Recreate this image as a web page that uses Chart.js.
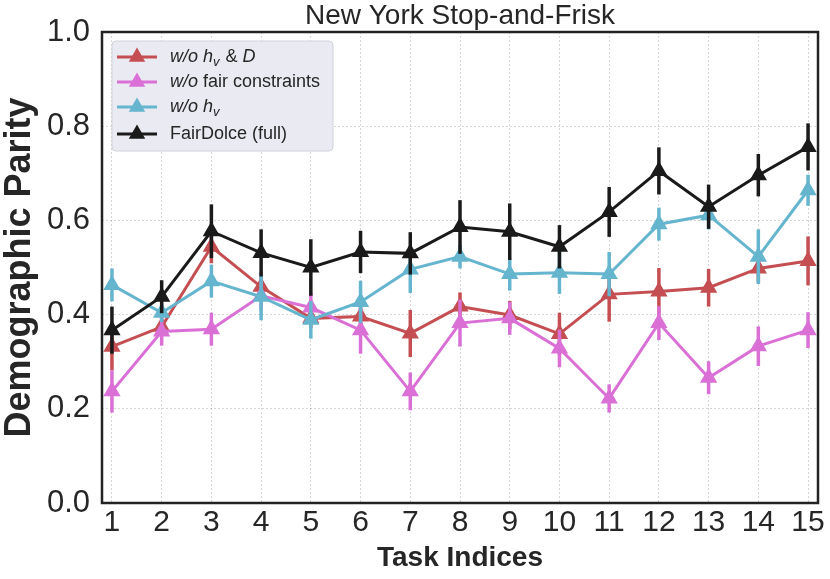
<!DOCTYPE html>
<html>
<head>
<meta charset="utf-8">
<title>New York Stop-and-Frisk</title>
<script src="https://cdn.jsdelivr.net/npm/chart.js@4.4.1/dist/chart.umd.min.js"></script>
<style>
  html, body { margin: 0; padding: 0; background: #fff; }
  #wrap { width: 830px; height: 579px; }
</style>
</head>
<body>
<div id="wrap"><canvas id="chart" width="830" height="579"></canvas></div>
<script>
// ---- data ----
var TASKS = [1, 2, 3, 4, 5, 6, 7, 8, 9, 10, 11, 12, 13, 14, 15];
var Y_TICKS = [0, 0.2, 0.4, 0.6, 0.8, 1.0];

var SERIES_NAMES = ['w/o h_v & D', 'w/o fair constraints', 'w/o h_v', 'FairDolce (full)'];

var NO_HV_D      = [0.332, 0.374, 0.544, 0.459, 0.392, 0.396, 0.360, 0.417, 0.399, 0.359, 0.443, 0.449, 0.457, 0.498, 0.514];
var NO_HV_D_ERR  = [0.050, 0.020, 0.035, 0.030, 0.020, 0.020, 0.050, 0.030, 0.030, 0.045, 0.058, 0.050, 0.040, 0.030, 0.052];

var NO_FAIR      = [0.237, 0.364, 0.369, 0.440, 0.415, 0.367, 0.237, 0.382, 0.392, 0.328, 0.222, 0.382, 0.266, 0.333, 0.367];
var NO_FAIR_ERR  = [0.045, 0.030, 0.035, 0.030, 0.030, 0.050, 0.040, 0.050, 0.035, 0.040, 0.030, 0.036, 0.035, 0.042, 0.038];

var NO_HV        = [0.463, 0.404, 0.471, 0.438, 0.389, 0.427, 0.496, 0.523, 0.486, 0.489, 0.486, 0.592, 0.611, 0.523, 0.664];
var NO_HV_ERR    = [0.035, 0.020, 0.035, 0.050, 0.040, 0.045, 0.050, 0.025, 0.035, 0.045, 0.047, 0.035, 0.030, 0.058, 0.033];

var FULL         = [0.367, 0.438, 0.577, 0.531, 0.500, 0.533, 0.530, 0.586, 0.576, 0.544, 0.618, 0.705, 0.629, 0.696, 0.756];
var FULL_ERR     = [0.050, 0.035, 0.057, 0.050, 0.060, 0.045, 0.045, 0.057, 0.060, 0.046, 0.053, 0.050, 0.047, 0.045, 0.050];

// legend labels with italics / subscripts: [text, flags] (i = italic, s = subscript)
var LEGEND_RICH = [
  [['w/o', 'i'], [' ', ''], ['h', 'i'], ['v', 'is'], [' & ', ''], ['D', 'i']],
  [['w/o', 'i'], [' fair constraints', '']],
  [['w/o', 'i'], [' ', ''], ['h', 'i'], ['v', 'is']],
  [['FairDolce (full)', '']]
];

var COLORS = ['#C44E52', '#DA70D6', '#64B5CD', '#1A1A1A'];
var FONT = "'Liberation Sans', Arial, Helvetica, sans-serif";
var TEXT = '#262626';

function pts(vals) {
  return TASKS.map(function(t, i) { return { x: t, y: vals[i] }; });
}

function makeSet(idx, vals, errs) {
  return {
    label: SERIES_NAMES[idx],
    data: pts(vals),
    errs: errs,
    borderColor: COLORS[idx],
    backgroundColor: COLORS[idx],
    pointBackgroundColor: COLORS[idx],
    pointBorderColor: COLORS[idx],
    borderWidth: 3,
    pointStyle: 'triangle',
    pointRadius: 8.5,
    pointHoverRadius: 8.5,
    pointBorderWidth: 1.5,
    tension: 0,
    fill: false,
    order: 3 - idx
  };
}

// error bars drawn right before each dataset, so the dataset line/markers sit on top
var errorBars = {
  id: 'errorBars',
  beforeDatasetDraw: function(chart, args) {
    var ds = chart.data.datasets[args.index];
    var ys = chart.scales.y;
    var ctx = chart.ctx;
    ctx.save();
    ctx.strokeStyle = ds.borderColor;
    ctx.lineWidth = 3.5;
    ctx.lineCap = 'butt';
    args.meta.data.forEach(function(p, i) {
      var v = ds.data[i].y, e = ds.errs[i];
      ctx.beginPath();
      ctx.moveTo(p.x, ys.getPixelForValue(v + e));
      ctx.lineTo(p.x, ys.getPixelForValue(v - e));
      ctx.stroke();
    });
    ctx.restore();
  }
};

// frame, title and matplotlib-like legend
var decorations = {
  id: 'decorations',
  afterDraw: function(chart) {
    var ctx = chart.ctx, a = chart.chartArea;
    ctx.save();
    // spines
    ctx.strokeStyle = '#222';
    ctx.lineWidth = 2.5;
    ctx.strokeRect(a.left, a.top, a.right - a.left, a.bottom - a.top);

    // title centred over the plot area
    ctx.fillStyle = TEXT;
    ctx.font = '28px ' + FONT;
    ctx.textAlign = 'center';
    ctx.textBaseline = 'middle';
    ctx.fillText('New York Stop-and-Frisk', (a.left + a.right) / 2, 16);

    // legend box
    var bx = a.left + 10, by = a.top + 9, bw = 221, bh = 110, r = 4;
    ctx.beginPath();
    ctx.moveTo(bx + r, by);
    ctx.arcTo(bx + bw, by, bx + bw, by + bh, r);
    ctx.arcTo(bx + bw, by + bh, bx, by + bh, r);
    ctx.arcTo(bx, by + bh, bx, by, r);
    ctx.arcTo(bx, by, bx + bw, by, r);
    ctx.closePath();
    ctx.fillStyle = '#EAEAF2';
    ctx.fill();
    ctx.strokeStyle = '#D2D2DA';
    ctx.lineWidth = 1;
    ctx.stroke();

    var rowY = [57, 82, 107, 134];
    LEGEND_RICH.forEach(function(parts, k) {
      var y = rowY[k], c = COLORS[k];
      ctx.strokeStyle = c;
      ctx.fillStyle = c;
      ctx.lineWidth = 3;
      ctx.beginPath();
      ctx.moveTo(bx + 5, y);
      ctx.lineTo(bx + 45, y);
      ctx.stroke();
      var cx = bx + 25, rr = 9.5;
      ctx.beginPath();
      ctx.moveTo(cx, y - rr);
      ctx.lineTo(cx + rr * 0.866, y + rr * 0.5);
      ctx.lineTo(cx - rr * 0.866, y + rr * 0.5);
      ctx.closePath();
      ctx.fill();

      var tx = bx + 58;
      ctx.textAlign = 'left';
      ctx.textBaseline = 'middle';
      ctx.fillStyle = TEXT;
      parts.forEach(function(pt) {
        var it = pt[1].indexOf('i') >= 0, sub = pt[1].indexOf('s') >= 0;
        ctx.font = (it ? 'italic ' : '') + (sub ? '13px ' : '18px ') + FONT;
        ctx.fillText(pt[0], tx, y + (sub ? 5 : 0));
        tx += ctx.measureText(pt[0]).width + (sub ? 1 : 0);
      });
    });
    ctx.restore();
  }
};

var gridStyle = { color: 'rgba(0,0,0,0.16)', lineWidth: 1, drawTicks: false };

new Chart(document.getElementById('chart'), {
  type: 'line',
  data: {
    datasets: [
      makeSet(0, NO_HV_D, NO_HV_D_ERR),
      makeSet(1, NO_FAIR, NO_FAIR_ERR),
      makeSet(2, NO_HV, NO_HV_ERR),
      makeSet(3, FULL, FULL_ERR)
    ]
  },
  options: {
    responsive: false,
    animation: false,
    layout: { padding: { top: 32, right: 12, left: 0, bottom: 0 } },
    plugins: { legend: { display: false }, title: { display: false }, tooltip: { enabled: false } },
    scales: {
      x: {
        type: 'linear',
        min: 0.8,
        max: 15.2,
        afterFit: function(s) { s.height = 76; },
        afterBuildTicks: function(s) { s.ticks = TASKS.map(function(t) { return { value: t }; }); },
        grid: gridStyle,
        border: { display: false, dash: [2, 2] },
        ticks: { color: TEXT, padding: 2, font: { family: FONT, size: 30 }, maxRotation: 0, autoSkip: false },
        title: { display: true, text: 'Task Indices', color: TEXT, padding: { top: 0, bottom: 4 },
                 font: { family: FONT, size: 28, weight: 'bold' } }
      },
      y: {
        min: 0,
        max: 1,
        afterFit: function(s) { s.width = 102; },
        afterBuildTicks: function(s) { s.ticks = Y_TICKS.map(function(t) { return { value: t }; }); },
        grid: gridStyle,
        border: { display: false, dash: [2, 2] },
        ticks: { color: TEXT, padding: 12, font: { family: FONT, size: 31 },
                 callback: function(v) { return Number(v).toFixed(1); } },
        title: { display: true, text: 'Demographic Parity', color: TEXT, padding: { top: 0, bottom: 0 },
                 font: { family: FONT, size: 36, weight: 'bold', lineHeight: 1.1 } }
      }
    }
  },
  plugins: [errorBars, decorations]
});
</script>
</body>
</html>
